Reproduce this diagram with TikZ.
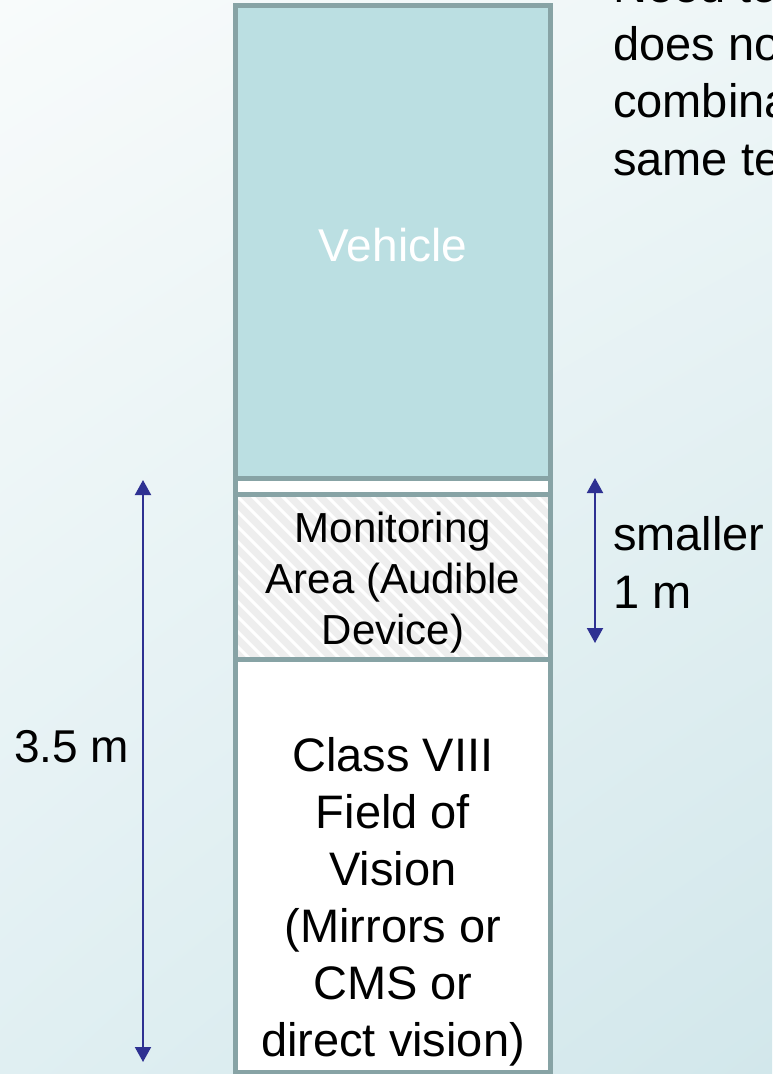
\documentclass[tikz,border=0pt]{standalone}
\usepackage{fontspec}
\setmainfont{Liberation Sans}
\usetikzlibrary{arrows.meta,shadings}
\definecolor{bgTL}{HTML}{F8FBFB}
\definecolor{bgTR}{HTML}{EEF6F7}
\definecolor{bgBL}{HTML}{E0EFF2}
\definecolor{bgBR}{HTML}{D2E7EB}
\definecolor{vehfill}{HTML}{BBDFE2}
\definecolor{boxline}{HTML}{87A3A5}
\definecolor{hatchgray}{HTML}{EEEEEE}
\definecolor{arrowblue}{RGB}{46,49,146}
\tikzset{
  zone/.style={draw=boxline, line width=5pt, inner sep=0pt, minimum width=315pt},
  lbl/.style={inner sep=0pt, align=center},
  dim/.style={draw=arrowblue, line width=2pt, {Triangle[width=16pt,length=15pt]}-{Triangle[width=16pt,length=15pt]}, shorten <=0pt, shorten >=0pt}
}
\begin{document}
\begin{tikzpicture}[x=1pt,y=-1pt]
\useasboundingbox (0,0) rectangle (772,1074);
\clip (0,0) rectangle (772,1074);
\shade[upper left=bgTL, upper right=bgTR, lower left=bgBL, lower right=bgBR] (0,0) rectangle (772,1074);

% boxes
\node[zone, fill=vehfill, minimum height=473pt] (veh) at (393,242) {};
\node[zone, fill=white, minimum height=16.5pt] (strip) at (393,486.25) {};
\node[zone, fill=hatchgray, minimum height=165pt,
  path picture={
    \foreach \i in {-180,-165,...,330}
      \draw[white, line width=3pt] ([xshift=\i pt]path picture bounding box.north west) -- ++(190,190);
  }] (mon) at (393,577) {};
\node[zone, fill=white, minimum height=412.5pt] (cls) at (393,865.75) {};

% texts
\node[lbl, text=white, font=\fontsize{46}{55}\selectfont] (vehtxt) at (393,245) {Vehicle};
\node[lbl, font=\fontsize{42}{51}\selectfont, anchor=base] (montxt) at (393,644) {Monitoring\\Area (Audible\\Device)};
\node[lbl, font=\fontsize{47}{57}\selectfont, anchor=base] (clstxt) at (393,1056) {Class VIII\\Field of\\Vision\\(Mirrors or\\CMS or\\direct vision)};

\node[lbl, font=\fontsize{46}{55}\selectfont, anchor=base west] (tl) at (14,762) {3.5 m};
\node[lbl, font=\fontsize{47}{58}\selectfont, anchor=base west, align=left] (sm) at (613,608) {smaller\\1 m};
\node[lbl, font=\fontsize{47}{57.5}\selectfont, anchor=base west, align=left] (note) at (613,175) {Need to\\does no\\combina\\same te};

% dimension arrows
\coordinate (a1) at (143,480);
\coordinate (a2) at (143,1062);
\coordinate (b1) at (595,478);
\coordinate (b2) at (595,643);
\draw[dim] (a1) -- (a2);
\draw[dim] (b1) -- (b2);
\end{tikzpicture}
\end{document}
